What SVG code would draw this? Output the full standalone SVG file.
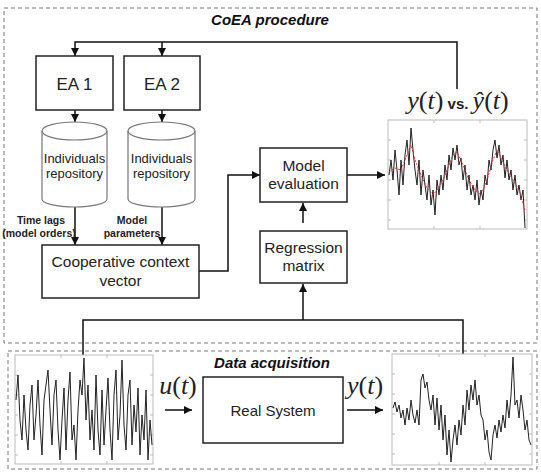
<svg xmlns="http://www.w3.org/2000/svg" width="541" height="473" viewBox="0 0 541 473">
<style>
.box{fill:#fff;stroke:#222;stroke-width:1.5}
.cyl{fill:#fff;stroke:#777;stroke-width:1.2}
.dash{fill:none;stroke:#777;stroke-width:1;stroke-dasharray:4 3}
.ln{fill:none;stroke:#111;stroke-width:1.5}
.t{font-family:"Liberation Sans",Arial,sans-serif;fill:#222;text-anchor:middle}
.title{font-family:"Liberation Sans",Arial,sans-serif;font-weight:bold;font-style:italic;font-size:15px;fill:#111;text-anchor:middle}
.lbl{font-family:"Liberation Sans",Arial,sans-serif;font-weight:bold;font-size:10.5px;fill:#222;text-anchor:middle}
.math{font-family:"Liberation Serif","Times New Roman",serif;font-size:26px;fill:#222;text-anchor:middle}
.chart{fill:#fff;stroke:#bbb;stroke-width:1}
.sig{fill:none;stroke:#222;stroke-width:1;stroke-linejoin:round}
.fit{fill:none;stroke:#e03030;stroke-width:1;stroke-dasharray:2 1.5}
.tick{stroke:#bbb;stroke-width:1}
</style>
<defs>
<marker id="ah" viewBox="0 0 10 10" refX="10" refY="5" markerWidth="8" markerHeight="8" markerUnits="userSpaceOnUse" orient="auto">
<path d="M0,0 L10,5 L0,10 z" fill="#111"/>
</marker>
</defs>
<rect width="541" height="473" fill="#fff"/>

<g id="coea-frame">
<rect class="dash" x="4" y="8" width="533" height="335"/>
<text class="title" x="270" y="25">CoEA procedure</text>
</g>
<g id="da-frame">
<rect class="dash" x="8" y="351" width="529" height="118"/>
<text class="title" x="272" y="368">Data acquisition</text>
</g>

<g id="connectors">
<path class="ln" d="M457,89 V42 H75 V56" marker-end="url(#ah)"/>
<path class="ln" d="M162,42 V56" marker-end="url(#ah)"/>
<path class="ln" d="M75,110 V122" marker-end="url(#ah)"/>
<path class="ln" d="M162,110 V122" marker-end="url(#ah)"/>
<path class="ln" d="M75,207 V245" marker-end="url(#ah)"/>
<path class="ln" d="M162,207 V245" marker-end="url(#ah)"/>
<path class="ln" d="M199,271 H228 V175 H260" marker-end="url(#ah)"/>
<path class="ln" d="M347,175 H385" marker-end="url(#ah)"/>
<path class="ln" d="M303,223 V203" marker-end="url(#ah)"/>
<path class="ln" d="M83,356 V320 H463 V354"/>
<path class="ln" d="M303,320 V284" marker-end="url(#ah)"/>
<path class="ln" d="M165,410 H192" marker-end="url(#ah)"/>
<path class="ln" d="M347,410 H383" marker-end="url(#ah)"/>
</g>

<g id="ea1">
<rect class="box" x="36" y="56" width="77" height="54"/>
<text class="t" x="74.5" y="90" font-size="17">EA 1</text>
</g>
<g id="ea2">
<rect class="box" x="124" y="56" width="76" height="54"/>
<text class="t" x="162" y="90" font-size="17">EA 2</text>
</g>

<g id="repo1">
<path class="cyl" d="M42,131 V199 A32.5,8 0 0 0 107,199 V131"/>
<ellipse class="cyl" cx="74.5" cy="131" rx="32.5" ry="9"/>
<text class="t" x="74.5" y="163" font-size="13">Individuals</text>
<text class="t" x="74.5" y="178" font-size="13">repository</text>
</g>
<g id="repo2">
<path class="cyl" d="M128,131 V199 A33.5,8 0 0 0 195,199 V131"/>
<ellipse class="cyl" cx="161.5" cy="131" rx="33.5" ry="9"/>
<text class="t" x="161.5" y="163" font-size="13">Individuals</text>
<text class="t" x="161.5" y="178" font-size="13">repository</text>
</g>

<g id="labels">
<text class="lbl" x="41" y="224">Time lags</text>
<text class="lbl" x="39" y="237">(model orders)</text>
<text class="lbl" x="132" y="224">Model</text>
<text class="lbl" x="132" y="237">parameters</text>
</g>

<g id="coop">
<rect class="box" x="42" y="245" width="157" height="53"/>
<text class="t" x="120.5" y="267" font-size="15.5">Cooperative context</text>
<text class="t" x="120.5" y="286" font-size="15.5">vector</text>
</g>

<g id="model-eval">
<rect class="box" x="260" y="148" width="87" height="54"/>
<text class="t" x="303.5" y="171" font-size="15.5">Model</text>
<text class="t" x="303.5" y="189" font-size="15.5">evaluation</text>
</g>

<g id="regression">
<rect class="box" x="260" y="231" width="87" height="52"/>
<text class="t" x="303.5" y="253" font-size="15.5">Regression</text>
<text class="t" x="303.5" y="271" font-size="15.5">matrix</text>
</g>

<g id="real-system">
<rect class="box" x="203" y="377" width="140" height="66"/>
<text class="t" x="273" y="416" font-size="15">Real System</text>
</g>

<g id="ut-label">
<text class="math" x="178" y="394"><tspan font-style="italic">u</tspan>(<tspan font-style="italic">t</tspan>)</text>
</g>
<g id="yt-label">
<text class="math" x="365" y="394"><tspan font-style="italic">y</tspan>(<tspan font-style="italic">t</tspan>)</text>
</g>

<g id="fit-chart">
<text x="458" y="109" class="math"><tspan font-style="italic">y</tspan>(<tspan font-style="italic">t</tspan>)<tspan font-family="Liberation Sans,Arial,sans-serif" font-weight="bold" font-size="15"> vs. </tspan><tspan font-style="italic">ŷ</tspan>(<tspan font-style="italic">t</tspan>)</text>
<rect class="chart" x="388" y="120" width="139" height="109"/>
<path class="tick" d="M434,120 v3 M480,120 v3 M434,229 v-3 M480,229 v-3 M388,140 h3 M388,160 h3 M388,180 h3 M388,200 h3 M388,220 h3 M527,140 h-3 M527,160 h-3 M527,180 h-3 M527,200 h-3 M527,220 h-3"/>
<polyline class="sig" points="389,175 391,160 393,180 395,150 397,170 399,195 401,160 403,185 405,155 407,140 409,165 411,128 413,150 415,170 417,185 419,160 421,195 423,170 425,185 427,200 429,175 431,205 433,190 435,215 437,180 439,195 441,175 443,190 445,165 447,180 449,155 451,170 453,148 455,160 457,145 459,165 461,158 463,180 465,165 467,190 469,175 471,195 473,185 475,200 477,180 479,205 481,190 483,200 485,175 487,185 489,160 491,170 493,150 495,140 497,158 499,145 501,165 503,155 505,178 507,160 509,180 511,170 513,190 515,175 517,195 519,185 521,200 523,190 525,228"/>
<polyline class="fit" points="389,172 395,168 401,170 407,155 411,145 415,160 421,175 427,188 433,195 437,190 443,180 449,165 453,155 457,152 463,165 469,180 475,190 481,195 487,180 493,160 497,150 501,158 507,170 513,180 519,190 525,210"/>
</g>

<g id="input-chart">
<rect class="chart" x="15" y="355" width="138" height="109"/>
<path class="tick" d="M61,355 v3 M107,355 v3 M61,464 v-3 M107,464 v-3 M15,375 h3 M15,395 h3 M15,415 h3 M15,435 h3 M15,455 h3 M153,375 h-3 M153,395 h-3 M153,415 h-3 M153,435 h-3 M153,455 h-3"/>
<polyline class="sig" points="16,400 18,375 20,420 22,440 24,395 26,430 28,450 30,405 32,385 34,440 36,415 38,380 40,425 42,455 44,400 46,385 48,370 50,410 52,445 54,395 56,380 58,430 60,460 62,420 64,388 66,450 68,400 70,372 72,440 74,425 76,460 78,410 80,380 82,395 84,358 86,420 88,385 90,440 92,410 94,450 96,375 98,430 100,455 102,390 104,445 106,410 108,378 110,430 112,460 114,395 116,370 118,440 120,415 122,360 124,425 126,450 128,395 130,380 132,445 134,405 136,432 138,388 140,455 142,415 144,440 146,390 148,460 150,420 152,445"/>
</g>

<g id="output-chart">
<rect class="chart" x="392" y="354" width="140" height="111"/>
<path class="tick" d="M439,354 v3 M485,354 v3 M439,465 v-3 M485,465 v-3 M392,374 h3 M392,394 h3 M392,414 h3 M392,434 h3 M392,454 h3 M532,374 h-3 M532,394 h-3 M532,414 h-3 M532,434 h-3 M532,454 h-3"/>
<polyline class="sig" points="393,408 395,402 397,412 399,405 401,418 403,410 405,425 407,408 409,420 411,400 413,415 415,423 417,410 419,425 421,380 423,374 425,388 427,382 429,400 431,410 433,395 435,425 437,398 439,430 441,405 443,440 445,415 447,455 449,430 451,462 453,440 455,425 457,445 459,420 461,435 463,405 465,425 467,390 469,410 471,385 473,400 475,380 477,405 479,395 481,415 483,420 485,440 487,430 489,452 491,460 493,435 495,425 497,438 499,420 501,432 503,415 505,428 507,400 509,418 511,395 513,357 515,405 517,400 519,418 521,395 523,410 525,430 527,420 529,440 531,445"/>
</g>
</svg>
